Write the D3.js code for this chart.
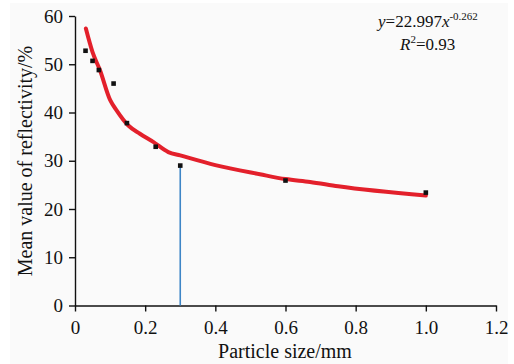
<!DOCTYPE html>
<html>
<head>
<meta charset="utf-8">
<script src="https://cdn.jsdelivr.net/npm/d3@7/dist/d3.min.js"></script>
<style>
  html, body { margin: 0; padding: 0; background: #ffffff; }
  svg { display: block; }
  svg text { font-family: "Liberation Serif", "Times New Roman", serif !important; fill: #111; }
</style>
</head>
<body>
<svg id="chart" width="514" height="364"></svg>
<script>
// Measured mean reflectivity by particle size
const sizes = [0.03, 0.05, 0.068, 0.11, 0.148, 0.23, 0.3, 0.6, 1.0];
const reflectivity = [52.8, 50.7, 48.8, 46.0, 37.8, 32.9, 29.0, 25.9, 23.4];

// Fitted trend line (red)
const fitX = [0.031, 0.05, 0.071, 0.1, 0.119, 0.152, 0.185, 0.223, 0.266, 0.3, 0.4, 0.527, 0.6, 0.67, 0.75, 1.0];
const fitY = [57.4, 52.5, 48.8, 42.6, 40.4, 37.3, 35.6, 33.9, 31.8, 31.1, 29.1, 27.2, 26.2, 25.6, 24.7, 22.8];

// Marker line at 0.3 mm
const markX = 0.3;
const markY = 29.0;

const xTicks = [0, 0.2, 0.4, 0.6, 0.8, 1.0, 1.2];
const xTickLabels = ["0", "0.2", "0.4", "0.6", "0.8", "1.0", "1.2"];
const yTicks = [0, 10, 20, 30, 40, 50, 60];

const serif = '"Liberation Serif", "Times New Roman", serif';
const svg = d3.select("#chart");

// light panel background
svg.append("rect").attr("x", 10).attr("y", 3).attr("width", 498).attr("height", 361).attr("fill", "#fafafa");

const x = d3.scaleLinear().domain([0, 1.2]).range([75, 496]);
const y = d3.scaleLinear().domain([0, 60]).range([305.5, 16]);

// axes
const xAxis = d3.axisBottom(x).tickValues(xTicks).tickFormat((d, i) => xTickLabels[i]).tickSize(6).tickSizeOuter(0);
const yAxis = d3.axisLeft(y).tickValues(yTicks).tickSize(6).tickSizeOuter(0);

const gx = svg.append("g").attr("transform", `translate(0,${y(0)})`).call(xAxis);
const gy = svg.append("g").attr("transform", `translate(${x(0)},0)`).call(yAxis);

[gx, gy].forEach(g => {
  g.attr("font-family", null).attr("font-size", null);
  g.select(".domain").attr("stroke", "#111").attr("stroke-width", 1.4);
  g.selectAll(".tick line").attr("stroke", "#111").attr("stroke-width", 1.4);
  g.selectAll(".tick text").style("font-size", "19px").style("font-family", serif).attr("fill", "#111");
});
gx.selectAll(".tick text").attr("dy", "1.0em");
gy.selectAll(".tick text").attr("x", -12);

// vertical marker line
svg.append("line")
  .attr("x1", x(markX)).attr("x2", x(markX))
  .attr("y1", y(0)).attr("y2", y(markY))
  .attr("stroke", "#3d85c6").attr("stroke-width", 1.6);

// fitted curve
const fitData = fitX.map((d, i) => [d, fitY[i]]);
svg.append("path")
  .datum(fitData)
  .attr("d", d3.line().x(d => x(d[0])).y(d => y(d[1])).curve(d3.curveMonotoneX))
  .attr("fill", "none")
  .attr("stroke", "#e3202b")
  .attr("stroke-width", 4)
  .attr("stroke-linejoin", "round")
  .attr("stroke-linecap", "round");

// data points
svg.append("g").selectAll("rect")
  .data(sizes.map((d, i) => [d, reflectivity[i]]))
  .join("rect")
  .attr("x", d => x(d[0]) - 2.3)
  .attr("y", d => y(d[1]) - 2.3)
  .attr("width", 4.6)
  .attr("height", 4.6)
  .attr("fill", "#111");

// axis titles
svg.append("text")
  .attr("x", 285).attr("y", 358)
  .attr("text-anchor", "middle")
  .style("font-size", "20px")
  .text("Particle size/mm");

svg.append("text")
  .attr("transform", "translate(32,161) rotate(-90)")
  .attr("text-anchor", "middle")
  .style("font-size", "20px")
  .text("Mean value of reflectivity/%");

// fit equation
const eq = svg.append("text").attr("x", 378).attr("y", 27).style("font-size", "17px");
eq.append("tspan").attr("font-style", "italic").text("y");
eq.append("tspan").text("=22.997");
eq.append("tspan").attr("font-style", "italic").text("x");
eq.append("tspan").style("font-size", "11px").attr("dy", -7).text("-0.262");

const r2 = svg.append("text").attr("x", 400).attr("y", 50).style("font-size", "17px");
r2.append("tspan").attr("font-style", "italic").text("R");
r2.append("tspan").style("font-size", "11px").attr("dy", -7).text("2");
r2.append("tspan").attr("dy", 7).text("=0.93");
</script>
</body>
</html>
